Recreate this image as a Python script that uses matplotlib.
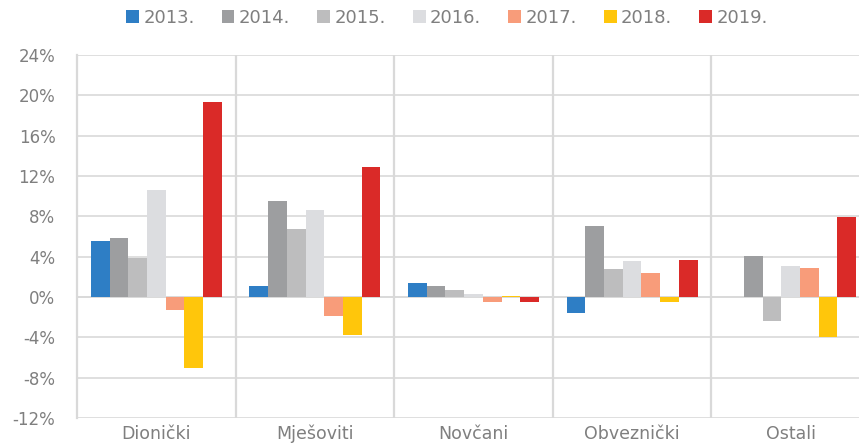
import matplotlib
matplotlib.use("Agg")
import matplotlib.pyplot as plt
import numpy as np
from matplotlib.ticker import FixedLocator

categories = ["Dionički", "Mješoviti", "Novčani", "Obveznički", "Ostali"]
years = ["2013.", "2014.", "2015.", "2016.", "2017.", "2018.", "2019."]
v2013 = [5.6, 1.1, 1.4, -1.6, 0.0]
v2014 = [5.9, 9.55, 1.1, 7.0, 4.1]
v2015 = [3.9, 6.7, 0.7, 2.8, -2.4]
v2016 = [10.6, 8.6, 0.25, 3.6, 3.1]
v2017 = [-1.3, -1.9, -0.45, 2.4, 2.9]
v2018 = [-7.0, -3.8, 0.1, -0.5, -4.0]
v2019 = [19.3, 12.9, -0.5, 3.7, 7.9]
series = [v2013, v2014, v2015, v2016, v2017, v2018, v2019]
colors = ["#2E7EC5", "#9D9EA0", "#BDBDBE", "#DCDDE0", "#F89C7A", "#FFC60B", "#DA2A28"]
yticks = [-12, -8, -4, 0, 4, 8, 12, 16, 20, 24]

plt.rcParams['font.family'] = ['DejaVu Sans Condensed', 'DejaVu Sans']
txt = "#7F7F7F"
grid = "#D9D9D9"

fig = plt.figure(figsize=(8.59, 4.47), dpi=100)
left, right, bottom, top = 77/859, 870/859, 29/447, 392/447
ax = fig.add_axes([left, bottom, right-left, top-bottom])

n = len(series)
group = 0.826
w = group / n
x = np.arange(len(categories))
handles = []
for i, (vals, c, lab) in enumerate(zip(series, colors, years)):
    pos = x - group/2 + w*(i+0.5)
    b = ax.bar(pos, vals, width=w, color=c, label=lab, zorder=3)
    handles.append(b)

ax.set_xlim(-0.5, len(categories)-0.5)
ax.set_ylim(-12, 24)
ax.set_yticks(yticks)
ax.set_yticklabels([f"{t}%" for t in yticks], color=txt, fontsize=12)
ax.set_xticks(x)
ax.set_xticklabels(categories, color=txt, fontsize=12.5)
ax.xaxis.set_minor_locator(FixedLocator(np.arange(0.5, len(categories)-0.5, 1)))
ax.tick_params(axis='both', which='both', length=0)
ax.tick_params(axis='y', pad=15.5)
ax.tick_params(axis='x', pad=5)
ax.grid(axis='y', color=grid, lw=1.2, zorder=0)
ax.grid(axis='x', which='minor', color=grid, lw=1.6, zorder=0)
for s in ['top', 'right', 'bottom']:
    ax.spines[s].set_visible(False)
ax.spines['left'].set_color(grid)
ax.spines['left'].set_linewidth(1.6)
ax.axhline(0, color=grid, lw=1.2, zorder=2)

leg = fig.legend(handles=handles, labels=years, loc='center', bbox_to_anchor=(447/859, 1-18/447),
                 ncol=7, frameon=False, fontsize=13, handlelength=0.7, handleheight=0.7,
                 handletextpad=0.25, columnspacing=1.5)
for t in leg.get_texts():
    t.set_color(txt)

fig.savefig("out.png", dpi=100)
